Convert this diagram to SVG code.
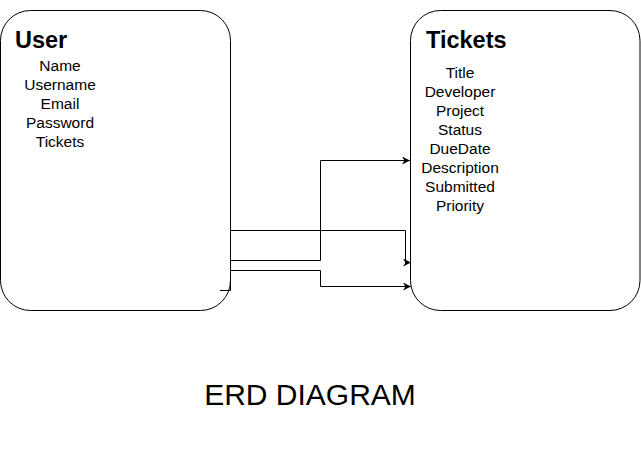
<svg xmlns="http://www.w3.org/2000/svg" width="641" height="461" viewBox="0 0 641 461">
<style>
.box{fill:#fff;stroke:#000;stroke-width:1}
.title{font-family:"Liberation Sans",Arial,sans-serif;font-weight:bold;font-size:23.5px;fill:#000}
.attr{font-family:"Liberation Sans",Arial,sans-serif;font-size:15.5px;fill:#000;text-anchor:middle}
.edge{fill:none;stroke:#000;stroke-width:1}
.cap{font-family:"Liberation Sans",Arial,sans-serif;font-size:30px;fill:#000;text-anchor:middle}
</style>
<defs>
<marker id="arr" viewBox="0 0 10 10" refX="10" refY="5" markerWidth="8" markerHeight="8" markerUnits="userSpaceOnUse" orient="auto">
<path d="M0,0 L10,5 L0,10 L3,5 Z" fill="#000"/>
</marker>
</defs>
<rect width="641" height="461" fill="#fff"/>
<g id="user">
<rect class="box" x="0.5" y="10.5" width="230" height="300" rx="30" ry="30"/>
<text class="title" x="15" y="48">User</text>
<text class="attr" x="60" y="71">Name</text>
<text class="attr" x="60" y="90">Username</text>
<text class="attr" x="60" y="109">Email</text>
<text class="attr" x="60" y="128">Password</text>
<text class="attr" x="60" y="147">Tickets</text>
</g>
<g id="tickets">
<rect class="box" x="410.5" y="10.5" width="229.5" height="300" rx="30" ry="30"/>
<text class="title" x="426" y="48">Tickets</text>
<text class="attr" x="460" y="78">Title</text>
<text class="attr" x="460" y="97">Developer</text>
<text class="attr" x="460" y="116">Project</text>
<text class="attr" x="460" y="135">Status</text>
<text class="attr" x="460" y="154">DueDate</text>
<text class="attr" x="460" y="173">Description</text>
<text class="attr" x="460" y="192">Submitted</text>
<text class="attr" x="460" y="211">Priority</text>
</g>
<g id="connectors">
<path class="edge" d="M220,290.5 H230.5 V230.5 H405.5 V262.5 H411" marker-end="url(#arr)"/>
<path class="edge" d="M230.5,260.5 H320.5 V160.5 H410" marker-end="url(#arr)"/>
<path class="edge" d="M230.5,270.5 H320.5 V286.5 H411" marker-end="url(#arr)"/>
</g>
<text id="caption" class="cap" x="310" y="405">ERD DIAGRAM</text>
</svg>
